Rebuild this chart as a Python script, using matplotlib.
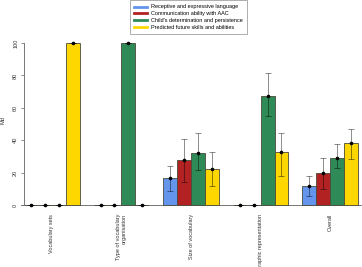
import numpy as np
import matplotlib
matplotlib.use('Agg')
import matplotlib.pyplot as plt

plt.rcParams['font.family'] = ['Liberation Sans', 'DejaVu Sans']

groups = ['Vocabulary sets', 'Type of vocabulary\norganisation', 'Size of vocabulary',
          'Graphic representation', 'Overall']
series = ['Receptive and expressive language', 'Communication ability with AAC',
          "Child's determination and persistence", 'Predicted future skills and abilities']
colors = ['#6495ED', '#B22222', '#2E8B57', '#FFD700']

rec = [0, 0, 16.7, 0, 11.9]
rec_lo = [0, 0, 8.6, 0, 5.4]
rec_hi = [0, 0, 24.3, 0, 17.7]

aac = [0, 0, 28, 0, 20]
aac_lo = [0, 0, 14, 0, 9.9]
aac_hi = [0, 0, 41, 0, 28.8]

det = [0, 100, 32.3, 67.5, 29.2]
det_lo = [0, 100, 21.4, 55, 22.8]
det_hi = [0, 100, 44.2, 81.5, 37.5]

pred = [100, 0, 22, 32.7, 38]
pred_lo = [100, 0, 11.7, 17.7, 28.6]
pred_hi = [100, 0, 32.5, 44.3, 46.7]

vals = [rec, aac, det, pred]
los = [rec_lo, aac_lo, det_lo, pred_lo]
his = [rec_hi, aac_hi, det_hi, pred_hi]

W, H = 362, 267
fig = plt.figure(figsize=(W / 100, H / 100), dpi=100)
ax = fig.add_axes([21.2 / W, (H - 205) / H, (360.8 - 21.2) / W, 162 / H])

# R style barplot positions: space = c(0, 1)
for j in range(4):
    x = np.array([1 + g * 5 + j + 0.5 for g in range(len(groups))])
    v = np.array(vals[j])
    ax.bar(x, v, width=1.0, color=colors[j], edgecolor='#4a4a3a', linewidth=0.6,
           clip_on=False, zorder=2)
    yerr = [v - np.array(los[j]), np.array(his[j]) - v]
    ax.errorbar(x, v, yerr=yerr, fmt='none', ecolor='black', elinewidth=0.7,
                capsize=2.2, capthick=0.7, alpha=0.45, clip_on=False, zorder=3)
    ax.plot(x, v, 'o', color='black', markersize=1.6, clip_on=False, zorder=4)

ax.set_xlim(0.8, 25.2)
ax.set_ylim(0, 100)
ax.axhline(0, color='#777777', linewidth=0.7, zorder=1, clip_on=False)

for s in ['top', 'right', 'bottom']:
    ax.spines[s].set_visible(False)
ax.spines['left'].set_position(('data', 1))
ax.spines['left'].set_bounds(0, 100)
ax.spines['left'].set_color('#777777')
ax.spines['left'].set_linewidth(0.7)

ax.set_yticks([0, 20, 40, 60, 80, 100])
ax.tick_params(axis='y', length=2.2, width=0.6, color='#777777', labelsize=4,
               labelcolor='#333333', pad=2, labelrotation=90)
for lab in ax.get_yticklabels():
    lab.set_va('center')

ax.set_xticks([1 + g * 5 + 2 for g in range(len(groups))])
ax.set_xticklabels(groups, rotation=90, fontsize=4, color='#333333',
                   va='top', ha='center', multialignment='right')
ax.tick_params(axis='x', length=0, pad=6.5)

fig.text(3 / W, 1 - 120 / H, 'Md', rotation=90, fontsize=4, color='#333333',
         ha='center', va='center')

handles = [plt.Line2D([], [], color=c, linewidth=2) for c in colors]
leg = fig.legend(handles, series, loc='upper left', bbox_to_anchor=(130 / W, 1.0),
                 fontsize=4, frameon=True, fancybox=False, borderaxespad=0,
                 handlelength=2.2, handletextpad=0.7, labelspacing=0.32,
                 borderpad=0.8)
leg.get_frame().set_edgecolor('#888888')
leg.get_frame().set_linewidth(0.6)

fig.savefig('out.png', dpi=100)
